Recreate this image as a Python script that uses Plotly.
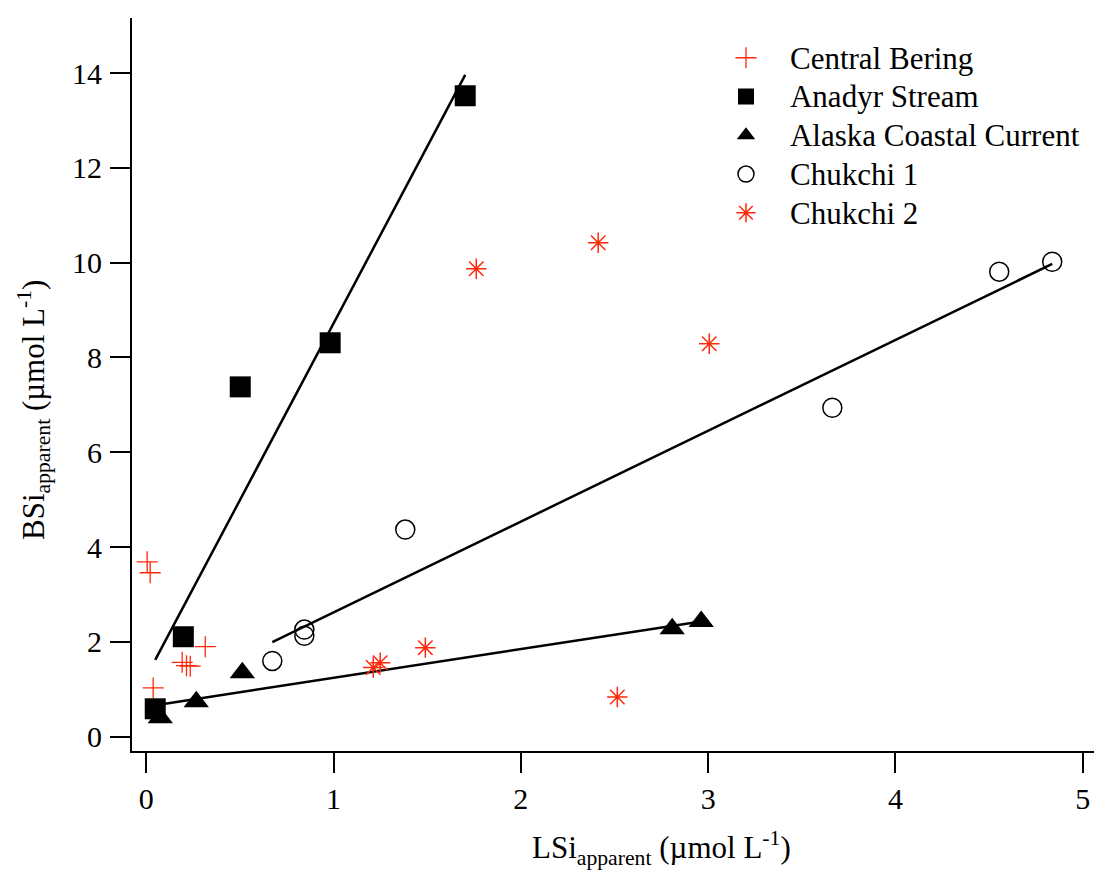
import numpy as np
import plotly.graph_objects as go

# ---- data ----
cb_x = [0.005, 0.021, 0.037, 0.192, 0.215, 0.235, 0.315]
cb_y = [3.69, 3.46, 1.03, 1.57, 1.50, 1.49, 1.90]

an_x = [0.048, 0.198, 0.502, 0.982, 1.703]
an_y = [0.59, 2.11, 7.38, 8.31, 13.52]

ak_x = [0.075, 0.267, 0.513, 2.808, 2.963]
ak_y = [0.40, 0.74, 1.35, 2.28, 2.43]

c1_x = [0.673, 0.844, 0.844, 1.383, 3.663, 4.554, 4.837]
c1_y = [1.60, 2.26, 2.13, 4.37, 6.94, 9.81, 10.02]

c2_x = [1.212, 1.249, 1.490, 1.762, 2.413, 2.515, 3.006]
c2_y = [1.46, 1.56, 1.88, 9.87, 10.42, 0.84, 8.29]

names = ["Central Bering", "Anadyr Stream", "Alaska Coastal Current",
         "Chukchi 1", "Chukchi 2"]

x_ticks = [0, 1, 2, 3, 4, 5]
y_ticks = [0, 2, 4, 6, 8, 10, 12, 14]

RED = "rgb(255,40,10)"
FONT = "Liberation Serif, Times New Roman, serif"


def lg(name):
    return '<span style="font-size:31px">' + name + '</span>'


fig = go.Figure()


def fit_line(xs, ys):
    xs = np.asarray(xs, float)
    ys = np.asarray(ys, float)
    k, b = np.polyfit(xs, ys, 1)
    xl = np.array([xs.min(), xs.max()])
    return xl, k * xl + b


for xs, ys in [(an_x, an_y), (ak_x, ak_y), (c1_x, c1_y)]:
    lx, ly = fit_line(xs, ys)
    fig.add_trace(go.Scatter(x=lx, y=ly, mode="lines",
                             line=dict(color="black", width=2.5),
                             showlegend=False, hoverinfo="skip"))

fig.add_trace(go.Scatter(x=cb_x, y=cb_y, mode="markers", name=lg(names[0]),
                         marker=dict(symbol="cross-thin-open", size=15,
                                     line=dict(color=RED, width=1.3), color=RED)))
fig.add_trace(go.Scatter(x=an_x, y=an_y, mode="markers", name=lg(names[1]),
                         marker=dict(symbol="square", size=21, color="black",
                                     line=dict(width=0))))
fig.add_trace(go.Scatter(x=ak_x, y=ak_y, mode="markers", name=lg(names[2]),
                         marker=dict(symbol="triangle-up", size=22, color="black",
                                     line=dict(width=0))))
fig.add_trace(go.Scatter(x=c1_x, y=c1_y, mode="markers", name=lg(names[3]),
                         marker=dict(symbol="circle-open", size=19, color="black",
                                     line=dict(color="black", width=1.5))))
fig.add_trace(go.Scatter(x=c2_x, y=c2_y, mode="markers", name=lg(names[4]),
                         marker=dict(symbol="asterisk-open", size=17, color=RED,
                                     line=dict(color=RED, width=1.5))))

axis_common = dict(showline=True, linecolor="black", linewidth=2,
                   ticks="outside", ticklen=20, tickwidth=2, tickcolor="black",
                   showgrid=False, zeroline=False, mirror=False,
                   tickfont=dict(family=FONT, size=30, color="black"))

fig.update_layout(
    width=1094, height=875,
    margin=dict(l=132, r=0, t=18, b=124),
    plot_bgcolor="white", paper_bgcolor="white",
    font=dict(family=FONT, size=30, color="black"),
    xaxis=dict(range=[-0.076, 5.06], tickvals=x_ticks, **axis_common),
    yaxis=dict(range=[-0.30, 15.16], tickvals=y_ticks, ticklabelstandoff=2, **axis_common),
    legend=dict(x=0.5925, y=0.979, xanchor="left", yanchor="top",
                bgcolor="rgba(0,0,0,0)", font=dict(family=FONT, size=27.5, color="black"),
                itemsizing="trace", itemwidth=78, tracegroupgap=0),
    showlegend=True,
    annotations=[
        dict(text="LSi<sub>apparent</sub> (µmol L<sup>-1</sup>)", xref="paper", yref="paper",
             x=0.55, y=-0.133, xanchor="center", yanchor="middle", showarrow=False,
             font=dict(family=FONT, size=31, color="black")),
        dict(text="BSi<sub>apparent</sub> (µmol L<sup>-1</sup>)", xref="paper", yref="paper",
             x=-0.102, y=0.465, xanchor="center", yanchor="middle", showarrow=False,
             textangle=-90, font=dict(family=FONT, size=31, color="black")),
    ],
)

fig.write_html("out.html")
